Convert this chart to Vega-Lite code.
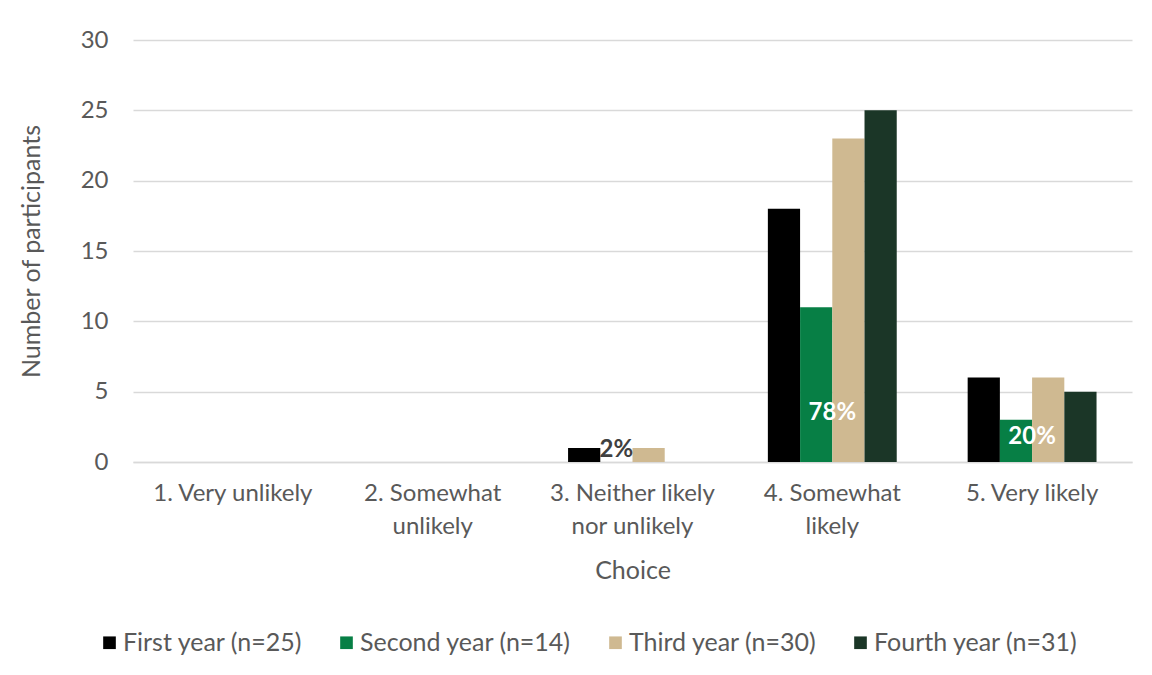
{
  "$schema": "https://vega.github.io/schema/vega-lite/v6.json",
  "width": 999,
  "height": 422,
  "autosize": {"type": "none"},
  "padding": {"left": 133, "top": 40, "right": 20, "bottom": 213},
  "background": "white",
  "config": {
    "view": {"stroke": null},
    "font": "Lato",
    "axis": {
      "labelFont": "Lato",
      "titleFont": "Lato",
      "labelColor": "#595959",
      "titleColor": "#595959",
      "titleFontWeight": "normal",
      "labelFontSize": 24,
      "titleFontSize": 25,
      "ticks": false
    }
  },
  "datasets": {
    "counts": [
      {"choice": "1. Very unlikely", "year": "First year (n=25)", "count": 0},
      {"choice": "1. Very unlikely", "year": "Second year (n=14)", "count": 0},
      {"choice": "1. Very unlikely", "year": "Third year (n=30)", "count": 0},
      {"choice": "1. Very unlikely", "year": "Fourth year (n=31)", "count": 0},
      {"choice": "2. Somewhat unlikely", "year": "First year (n=25)", "count": 0},
      {"choice": "2. Somewhat unlikely", "year": "Second year (n=14)", "count": 0},
      {"choice": "2. Somewhat unlikely", "year": "Third year (n=30)", "count": 0},
      {"choice": "2. Somewhat unlikely", "year": "Fourth year (n=31)", "count": 0},
      {"choice": "3. Neither likely nor unlikely", "year": "First year (n=25)", "count": 1},
      {"choice": "3. Neither likely nor unlikely", "year": "Second year (n=14)", "count": 0},
      {"choice": "3. Neither likely nor unlikely", "year": "Third year (n=30)", "count": 1},
      {"choice": "3. Neither likely nor unlikely", "year": "Fourth year (n=31)", "count": 0},
      {"choice": "4. Somewhat likely", "year": "First year (n=25)", "count": 18},
      {"choice": "4. Somewhat likely", "year": "Second year (n=14)", "count": 11},
      {"choice": "4. Somewhat likely", "year": "Third year (n=30)", "count": 23},
      {"choice": "4. Somewhat likely", "year": "Fourth year (n=31)", "count": 25},
      {"choice": "5. Very likely", "year": "First year (n=25)", "count": 6},
      {"choice": "5. Very likely", "year": "Second year (n=14)", "count": 3},
      {"choice": "5. Very likely", "year": "Third year (n=30)", "count": 6},
      {"choice": "5. Very likely", "year": "Fourth year (n=31)", "count": 5}
    ],
    "labelOnBar": [
      {"choice": "3. Neither likely nor unlikely", "year": "Second year (n=14)", "pos": 0.85, "label": "2%"}
    ],
    "labelCentered": [
      {"choice": "4. Somewhat likely", "pos": 3.5, "label": "78%"},
      {"choice": "5. Very likely", "pos": 1.75, "label": "20%"}
    ]
  },
  "encoding": {
    "x": {
      "field": "choice",
      "type": "nominal",
      "sort": ["1. Very unlikely", "2. Somewhat unlikely", "3. Neither likely nor unlikely", "4. Somewhat likely", "5. Very likely"],
      "scale": {
        "domain": ["1. Very unlikely", "2. Somewhat unlikely", "3. Neither likely nor unlikely", "4. Somewhat likely", "5. Very likely"],
        "paddingInner": 0.355,
        "paddingOuter": 0.1775
      },
      "axis": {
        "title": "Choice",
        "labelAngle": 0,
        "labelPadding": 19,
        "labelLineHeight": 33,
        "labelExpr": "datum.label == '2. Somewhat unlikely' ? ['2. Somewhat', 'unlikely'] : datum.label == '3. Neither likely nor unlikely' ? ['3. Neither likely', 'nor unlikely'] : datum.label == '4. Somewhat likely' ? ['4. Somewhat', 'likely'] : datum.label",
        "domain": true,
        "domainColor": "#d9d9d9",
        "domainWidth": 1.5,
        "grid": false,
        "titlePadding": 20
      }
    }
  },
  "layer": [
    {
      "data": {"name": "counts"},
      "mark": {"type": "bar"},
      "encoding": {
        "xOffset": {
          "field": "year",
          "type": "nominal",
          "sort": ["First year (n=25)", "Second year (n=14)", "Third year (n=30)", "Fourth year (n=31)"],
          "scale": {
            "domain": ["First year (n=25)", "Second year (n=14)", "Third year (n=30)", "Fourth year (n=31)"],
            "paddingInner": 0,
            "paddingOuter": 0
          }
        },
        "y": {
          "field": "count",
          "type": "quantitative",
          "scale": {"domain": [0, 30]},
          "axis": {
            "title": "Number of participants",
            "values": [0, 5, 10, 15, 20, 25, 30],
            "domain": false,
            "grid": true,
            "gridColor": "#d9d9d9",
            "gridWidth": 1.5,
            "labelPadding": 25,
            "titlePadding": 36
          }
        },
        "color": {
          "field": "year",
          "type": "nominal",
          "scale": {
            "domain": ["First year (n=25)", "Second year (n=14)", "Third year (n=30)", "Fourth year (n=31)"],
            "range": ["#000000", "#077F45", "#CFB991", "#1B3627"]
          },
          "legend": {
            "title": null,
            "orient": "none",
            "direction": "horizontal",
            "legendX": -36,
            "legendY": 590,
            "symbolType": "square",
            "symbolSize": 160,
            "symbolStrokeWidth": 0,
            "labelFont": "Lato",
            "labelFontSize": 25,
            "labelColor": "#595959",
            "labelLimit": 400,
            "columnPadding": 31,
            "labelOffset": 1
          }
        }
      }
    },
    {
      "data": {"name": "labelOnBar"},
      "mark": {"type": "text", "fontWeight": "bold", "fontSize": 24, "baseline": "middle", "align": "center", "color": "#404040"},
      "encoding": {
        "xOffset": {"field": "year", "type": "nominal"},
        "y": {"field": "pos", "type": "quantitative"},
        "text": {"field": "label", "type": "nominal"}
      }
    },
    {
      "data": {"name": "labelCentered"},
      "mark": {"type": "text", "fontWeight": "bold", "fontSize": 24, "baseline": "middle", "align": "center", "color": "white"},
      "encoding": {
        "y": {"field": "pos", "type": "quantitative"},
        "text": {"field": "label", "type": "nominal"}
      }
    }
  ]
}
